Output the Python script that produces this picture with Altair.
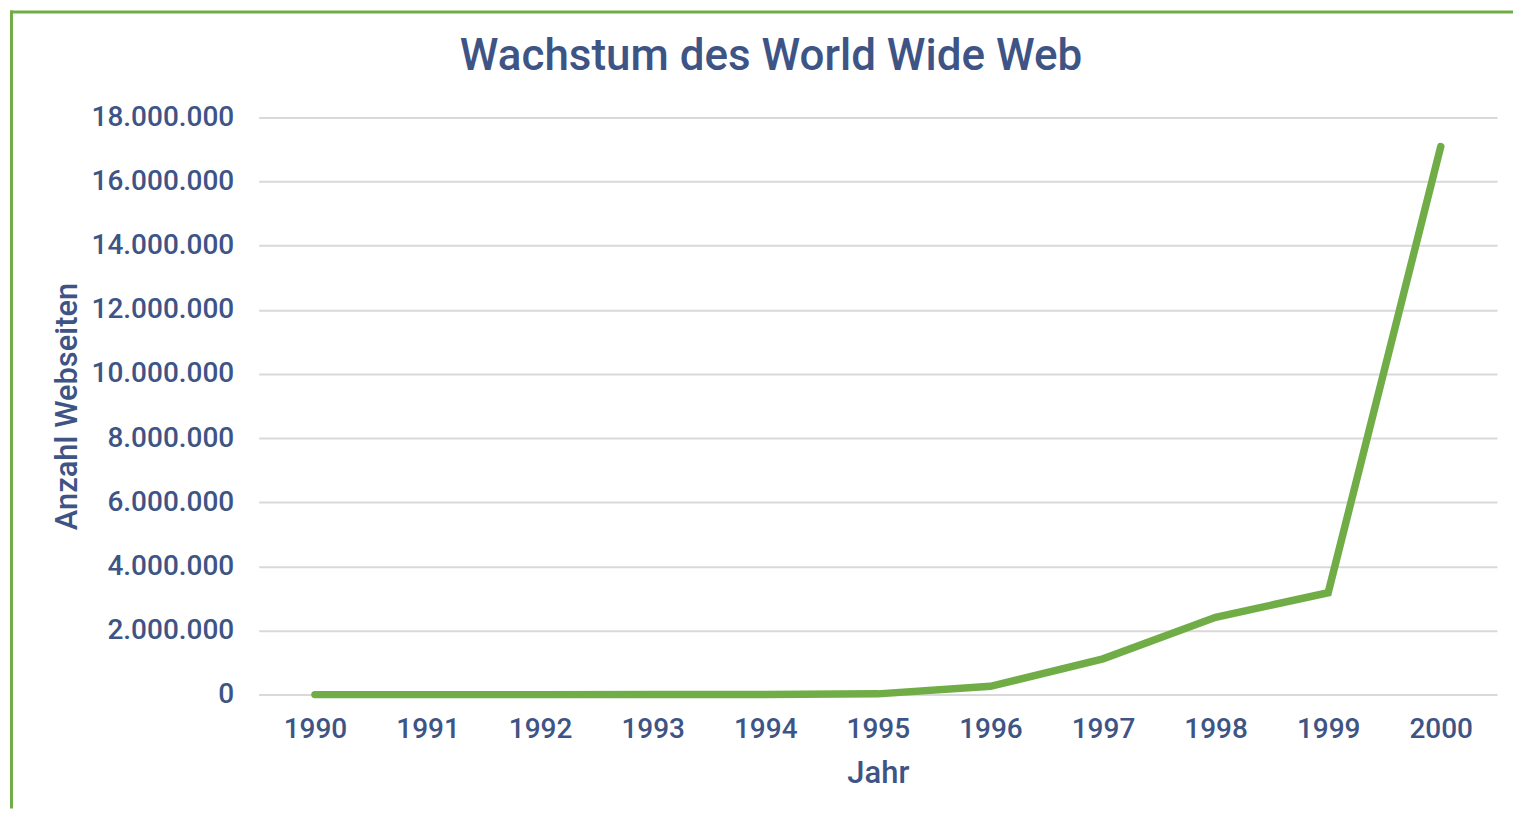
import altair as alt
import pandas as pd

years = ["1990", "1991", "1992", "1993", "1994", "1995", "1996", "1997", "1998", "1999", "2000"]
websites = [0, 1, 10, 130, 2738, 23500, 257601, 1117255, 2410067, 3177453, 17087182]
y_ticks = [0, 2000000, 4000000, 6000000, 8000000, 10000000, 12000000, 14000000, 16000000, 18000000]

TEXT = "#3E5485"
GREEN = "#70AD47"
FONT = "Roboto"

df = pd.DataFrame({"Jahr": years, "Anzahl": websites})

W, H = 1240, 578

line = alt.Chart(df).mark_line(color=GREEN, strokeWidth=7.5, strokeCap="round").encode(
    x=alt.X("Jahr:O", sort=years,
            scale=alt.Scale(type="point", padding=0.5),
            axis=alt.Axis(title="Jahr", labelAngle=0, ticks=False, domain=False, grid=False,
                          labelFontSize=28, titleFontSize=31, labelPadding=21, titlePadding=15,
                          labelColor=TEXT, titleColor=TEXT, labelFont=FONT, titleFont=FONT,
                          labelFontWeight=500, titleFontWeight=500)),
    y=alt.Y("Anzahl:Q",
            scale=alt.Scale(domain=[0, 18000000], nice=False),
            axis=alt.Axis(title="Anzahl Webseiten", values=y_ticks, ticks=False, domain=False,
                          grid=True, gridColor="#D9D9D9", gridWidth=2,
                          labelExpr="replace(format(datum.value, ','), /,/g, '.')",
                          labelFontSize=28, titleFontSize=31, labelPadding=25, titlePadding=8,
                          labelColor=TEXT, titleColor=TEXT, labelFont=FONT, titleFont=FONT,
                          labelFontWeight=500, titleFontWeight=500)),
)

border_df = pd.DataFrame({"k": [0]})
top_border = alt.Chart(border_df).mark_rule(color=GREEN, strokeWidth=3).encode(
    x=alt.value(-249), x2=alt.value(1256), y=alt.value(-105.5)
)
left_border = alt.Chart(border_df).mark_rule(color=GREEN, strokeWidth=3).encode(
    x=alt.value(-247.5), y=alt.value(-107), y2=alt.value(H + 114)
)

chart = alt.layer(line, top_border, left_border).properties(
    width=W, height=H,
    background="white",
    title=alt.Title("Wachstum des World Wide Web", fontSize=44, color=TEXT, font=FONT,
                    fontWeight=500, anchor="middle", frame="group", baseline="alphabetic",
                    offset=47, dx=-107, dy=152),
    padding={"left": 0, "top": 0, "right": 0, "bottom": 0},
).configure_view(stroke=None)

chart.save("out.html", embed_options={"renderer": "svg", "actions": False})
